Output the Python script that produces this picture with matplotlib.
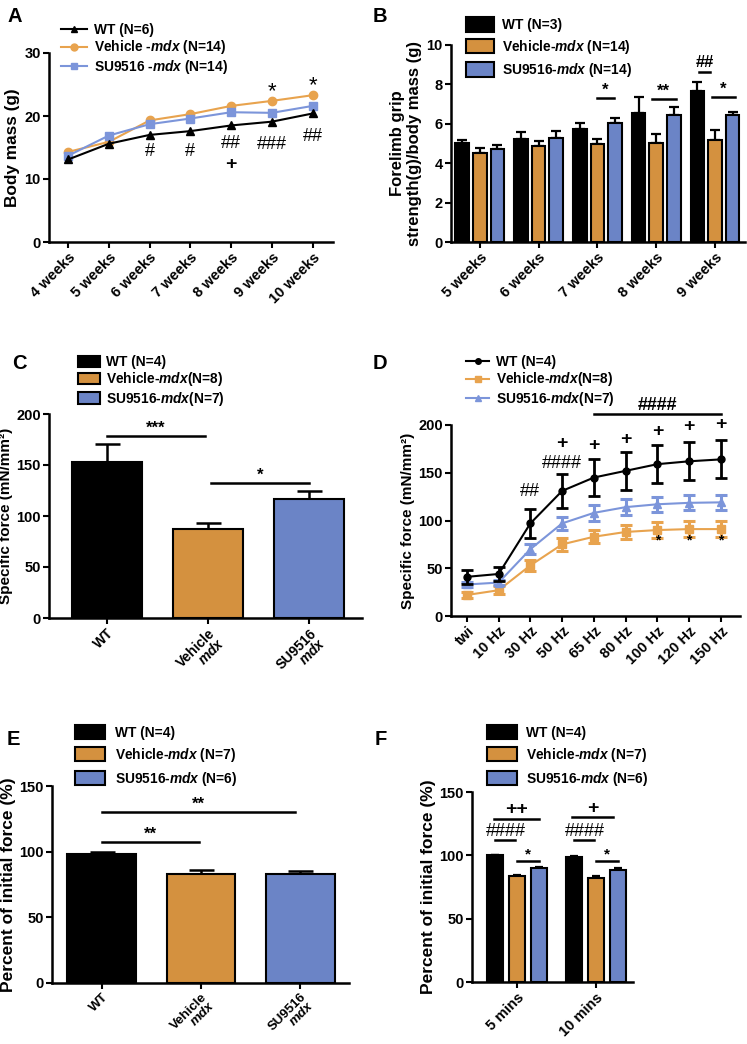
import numpy as np
import matplotlib.pyplot as plt
from matplotlib.lines import Line2D
from matplotlib.patches import Patch

plt.rcParams['font.family'] = ['Liberation Sans', 'DejaVu Sans']
plt.rcParams['font.weight'] = 'bold'
plt.rcParams['axes.labelweight'] = 'bold'
plt.rcParams['mathtext.fontset'] = 'custom'
plt.rcParams['mathtext.rm'] = 'Liberation Sans:bold'
plt.rcParams['mathtext.it'] = 'Liberation Sans:italic:bold'
plt.rcParams['mathtext.bf'] = 'Liberation Sans:bold'

# ---- data ----
weeks_a = ['4 weeks', '5 weeks', '6 weeks', '7 weeks', '8 weeks', '9 weeks', '10 weeks']
mass_wt = [13.1, 15.6, 17.0, 17.6, 18.5, 19.1, 20.4]
mass_veh = [14.3, 15.9, 19.3, 20.3, 21.6, 22.4, 23.3]
mass_su = [13.7, 16.9, 18.7, 19.6, 20.6, 20.5, 21.6]

weeks_b = ['5 weeks', '6 weeks', '7 weeks', '8 weeks', '9 weeks']
grip_wt = [5.05, 5.25, 5.75, 6.55, 7.65]
grip_wt_err = [0.15, 0.35, 0.3, 0.8, 0.45]
grip_veh = [4.5, 4.85, 4.98, 5.05, 5.2]
grip_veh_err = [0.25, 0.28, 0.27, 0.45, 0.5]
grip_su = [4.7, 5.3, 6.03, 6.47, 6.43]
grip_su_err = [0.2, 0.32, 0.27, 0.37, 0.15]

groups_c = ['WT', 'Vehicle\n$\\mathit{mdx}$', 'SU9516\n$\\mathit{mdx}$']
spec_force = [153, 87, 117]
spec_force_err = [18, 6, 8]

freqs = ['twi', '10 Hz', '30 Hz', '50 Hz', '65 Hz', '80 Hz', '100 Hz', '120 Hz', '150 Hz']
d_wt = [41, 44, 97, 131, 145, 152, 159, 162, 164]
d_wt_err = [7, 7, 15, 18, 19, 20, 20, 20, 20]
d_veh = [22, 27, 53, 75, 83, 88, 90, 91, 91]
d_veh_err = [3, 4, 6, 7, 7, 7, 8, 8, 8]
d_su = [33, 35, 70, 97, 108, 114, 117, 118.5, 119]
d_su_err = [3, 3, 5, 7, 8, 8, 8, 8, 8]

groups_e = ['WT', 'Vehicle\n$\\mathit{mdx}$', 'SU9516\n$\\mathit{mdx}$']
fatigue = [98, 83, 83]
fatigue_err = [1.5, 3, 2]

times_f = ['5 mins', '10 mins']
f_wt = [100, 98.5]
f_wt_err = [0.5, 0.7]
f_veh = [83.5, 82]
f_veh_err = [1, 1.5]
f_su = [90, 88.5]
f_su_err = [1, 1.5]

BLACK = 'black'
ORANGE = '#D4913F'
BLUE = '#6B84C6'
ORANGE_L = '#E8A34E'
BLUE_L = '#7C95DA'

W, H = 747, 1044
fig = plt.figure(figsize=(W / 100, H / 100), dpi=100)


def add_ax(l, t, r, b):
    return fig.add_axes([l / W, 1 - b / H, (r - l) / W, (b - t) / H])


def style(ax):
    for s in ['top', 'right']:
        ax.spines[s].set_visible(False)
    for s in ['left', 'bottom']:
        ax.spines[s].set_linewidth(1.8)
    ax.tick_params(width=1.5, length=4, labelsize=10.5, pad=2)


def fig_legend(ax, handles, labels, x, y, **kw):
    ax.legend(handles, labels, loc='upper left', bbox_to_anchor=(x / W, 1 - y / H),
              bbox_transform=fig.transFigure, frameon=False, fontsize=9.9,
              borderaxespad=0, borderpad=0, **kw)


def sig(ax, x1, x2, y, txt, dy, fs=11):
    ax.plot([x1, x2], [y, y], color='k', lw=1.8, clip_on=False)
    ax.text((x1 + x2) / 2, y + dy, txt, ha='center', va='bottom', fontsize=fs, clip_on=False)


def bar_leg_handles():
    return [Patch(facecolor=c, edgecolor='k', lw=1.5) for c in [BLACK, ORANGE, BLUE]]


# ---- A ----
ax = add_ax(49, 53, 333, 242)
xa = np.arange(len(weeks_a))
ax.plot(xa, mass_wt, '-^', color=BLACK, ms=6, lw=1.5, zorder=4)
ax.plot(xa, mass_veh, '-o', color=ORANGE_L, ms=6, lw=1.5, zorder=2)
ax.plot(xa, mass_su, '-s', color=BLUE_L, ms=6, lw=1.5, zorder=3)
ax.set_xlim(-0.47, 6.5)
ax.set_ylim(0, 30)
ax.set_yticks([0, 10, 20, 30])
ax.set_xticks(xa)
ax.set_xticklabels(weeks_a, rotation=45, ha='right', rotation_mode='anchor')
ax.set_ylabel('Body mass (g)', fontsize=12.4, labelpad=3)
style(ax)
for i, t, y in [(2, '#', 14.3), (3, '#', 14.3), (4, '##', 15.6), (5, '###', 15.4), (6, '##', 16.7)]:
    ax.text(i, y, t, ha='center', va='center', fontsize=13, fontweight='normal')
ax.text(4, 12.3, '+', ha='center', va='center', fontsize=14)
for i, y in [(5, 23.9), (6, 24.8)]:
    ax.text(i, y, '*', ha='center', va='center', fontsize=16, fontweight='normal')
fig_legend(ax, [Line2D([], [], color=BLACK, marker='^', ms=5, lw=1.5),
                Line2D([], [], color=ORANGE_L, marker='o', ms=5, lw=1.5),
                Line2D([], [], color=BLUE_L, marker='s', ms=5, lw=1.5)],
           ['WT (N=6)', 'Vehicle -$\\mathit{mdx}$ (N=14)', 'SU9516 -$\\mathit{mdx}$ (N=14)'],
           61, 23, handlelength=1.9, labelspacing=0.1, handletextpad=0.5)

# ---- B ----
ax = add_ax(451, 45, 745, 242)
xb = np.arange(len(weeks_b))
bw = 0.23
for off, vals, errs, c in [(-0.3, grip_wt, grip_wt_err, BLACK), (0, grip_veh, grip_veh_err, ORANGE),
                           (0.3, grip_su, grip_su_err, BLUE)]:
    ax.bar(xb + off, vals, bw, color=c, edgecolor='k', lw=1.5, zorder=3)
    ax.errorbar(xb + off, vals, yerr=[np.zeros(len(vals)), errs], fmt='none', ecolor='k',
                elinewidth=1.6, capsize=3.5, capthick=1.6, zorder=2)
ax.set_xlim(-0.49, 4.51)
ax.set_ylim(0, 10)
ax.set_yticks([0, 2, 4, 6, 8, 10])
ax.set_xticks(xb)
ax.set_xticklabels(weeks_b, rotation=45, ha='right', rotation_mode='anchor')
ax.set_ylabel('Forelimb grip\nstrength(g)/body mass (g)', fontsize=12, labelpad=3)
style(ax)
sig(ax, 2.0, 2.28, 7.33, '*', 0.0, fs=12)
sig(ax, 2.93, 3.33, 7.26, '**', 0.0, fs=12)
sig(ax, 3.95, 4.34, 7.38, '*', 0.0, fs=12)
sig(ax, 3.72, 3.92, 8.65, '##', 0.1, fs=12)
fig_legend(ax, bar_leg_handles(),
           ['WT (N=3)', 'Vehicle-$\\mathit{mdx}$ (N=14)', 'SU9516-$\\mathit{mdx}$ (N=14)'],
           466, 17, handlelength=2.0, handleheight=1.3, labelspacing=0.4, handletextpad=0.6)

# ---- C ----
ax = add_ax(49, 414, 362, 618)
xc = np.arange(3)
ax.bar(xc, spec_force, 0.69, color=[BLACK, ORANGE, BLUE], edgecolor='k', lw=1.5, zorder=3)
ax.errorbar(xc, spec_force, yerr=[np.zeros(3), spec_force_err], fmt='none', ecolor='k',
            elinewidth=1.8, capsize=9, capthick=1.8, zorder=2)
ax.set_xlim(-0.57, 2.52)
ax.set_ylim(0, 200)
ax.set_yticks([0, 50, 100, 150, 200])
ax.set_xticks(xc)
ax.set_xticklabels(groups_c, rotation=45, ha='right', rotation_mode='anchor', linespacing=0.9)
ax.set_ylabel('Specific force (mN/mm²)', fontsize=11, labelpad=2)
style(ax)
ax.tick_params(axis='x', labelsize=10)
sig(ax, -0.0, 0.97, 178, '***', 0.5, fs=12)
sig(ax, 1.03, 2.0, 132, '*', 0.5, fs=12)
fig_legend(ax, bar_leg_handles(),
           ['WT (N=4)', 'Vehicle-$\\mathit{mdx}$(N=8)', 'SU9516-$\\mathit{mdx}$(N=7)'],
           78, 355, handlelength=1.6, handleheight=0.9, labelspacing=0.1, handletextpad=0.4)

# ---- D ----
ax = add_ax(451, 425, 740, 616)
xd = np.arange(len(freqs))
ax.errorbar(xd, d_wt, yerr=d_wt_err, color=BLACK, marker='o', ms=5, lw=1.5, elinewidth=2,
            capsize=4, capthick=2, zorder=4)
ax.errorbar(xd, d_su, yerr=d_su_err, color=BLUE_L, marker='^', ms=6, lw=1.5, elinewidth=2.2,
            capsize=4, capthick=2.2, zorder=3)
ax.errorbar(xd, d_veh, yerr=d_veh_err, color=ORANGE_L, marker='s', ms=6, lw=1.5, elinewidth=2.2,
            capsize=4, capthick=2.2, zorder=2)
ax.set_xlim(-0.5, 8.6)
ax.set_ylim(0, 200)
ax.set_yticks([0, 50, 100, 150, 200])
ax.set_xticks(xd)
ax.set_xticklabels(freqs, rotation=45, ha='right', rotation_mode='anchor')
ax.set_ylabel('Specific force (mN/mm²)', fontsize=11, labelpad=2)
style(ax)
ax.text(2, 130, '##', ha='center', va='center', fontsize=13, fontweight='normal')
ax.text(3, 160, '####', ha='center', va='center', fontsize=13, fontweight='normal')
for i, y in [(3, 181), (4, 179), (5, 185), (6, 193), (7, 198), (8, 200)]:
    ax.text(i, y, '+', ha='center', va='center', fontsize=14, clip_on=False)
for i in [6, 7, 8]:
    ax.text(i, 79, '*', ha='center', va='center', fontsize=10)
sig(ax, 4, 8, 211, '####', 0.5, fs=13)
fig_legend(ax, [Line2D([], [], color=BLACK, marker='o', ms=4, lw=1.5),
                Line2D([], [], color=ORANGE_L, marker='s', ms=4, lw=1.5),
                Line2D([], [], color=BLUE_L, marker='^', ms=4, lw=1.5)],
           ['WT (N=4)', 'Vehicle-$\\mathit{mdx}$(N=8)', 'SU9516-$\\mathit{mdx}$(N=7)'],
           466, 355, handlelength=1.7, labelspacing=0.1, handletextpad=0.5)

# ---- E ----
ax = add_ax(52, 786, 349, 983)
xe = np.arange(3)
ax.bar(xe, fatigue, 0.69, color=[BLACK, ORANGE, BLUE], edgecolor='k', lw=1.5, zorder=3)
ax.errorbar(xe, fatigue, yerr=[np.zeros(3), fatigue_err], fmt='none', ecolor='k',
            elinewidth=1.8, capsize=9, capthick=1.8, zorder=2)
ax.set_xlim(-0.5, 2.49)
ax.set_ylim(0, 150)
ax.set_yticks([0, 50, 100, 150])
ax.set_xticks(xe)
ax.set_xticklabels(groups_e, rotation=45, ha='right', rotation_mode='anchor', linespacing=0.85)
ax.set_ylabel('Percent of initial force (%)', fontsize=12.5, labelpad=2)
style(ax)
ax.tick_params(axis='x', labelsize=9.5)
sig(ax, 0.0, 0.98, 107.4, '**', 0.5, fs=12)
sig(ax, 0.0, 1.95, 130, '**', 0.5, fs=12)
fig_legend(ax, bar_leg_handles(),
           ['WT (N=4)', 'Vehicle-$\\mathit{mdx}$ (N=7)', 'SU9516-$\\mathit{mdx}$ (N=6)'],
           75, 725, handlelength=2.2, handleheight=1.2, labelspacing=0.45, handletextpad=0.7)

# ---- F ----
ax = add_ax(472, 792, 633, 982)
xf = np.arange(len(times_f))
bw = 0.21
for off, vals, errs, c in [(-0.28, f_wt, f_wt_err, BLACK), (0, f_veh, f_veh_err, ORANGE),
                           (0.28, f_su, f_su_err, BLUE)]:
    ax.bar(xf + off, vals, bw, color=c, edgecolor='k', lw=1.5, zorder=3)
    ax.errorbar(xf + off, vals, yerr=[np.zeros(len(vals)), errs], fmt='none', ecolor='k',
                elinewidth=1.6, capsize=3, capthick=1.6, zorder=2)
ax.set_xlim(-0.57, 1.47)
ax.set_ylim(0, 150)
ax.set_yticks([0, 50, 100, 150])
ax.set_xticks(xf)
ax.set_xticklabels(times_f, rotation=45, ha='right', rotation_mode='anchor')
ax.set_ylabel('Percent of initial force (%)', fontsize=12.5, labelpad=2)
style(ax)
sig(ax, -0.29, 0.28, 129, '++', 0.5, fs=14)
sig(ax, 0.7, 1.22, 130, '+', 0.5, fs=14)
for g in [0, 1]:
    ax.text(g - 0.14, 118.5, '####', ha='center', va='center', fontsize=13, fontweight='normal')
    ax.plot([g - 0.28, g - 0.02], [112, 112], color='k', lw=1.8)
    sig(ax, g + 0.0, g + 0.28, 95.6, '*', -0.5, fs=11)
fig_legend(ax, bar_leg_handles(),
           ['WT (N=4)', 'Vehicle-$\\mathit{mdx}$ (N=7)', 'SU9516-$\\mathit{mdx}$ (N=6)'],
           487, 725, handlelength=2.2, handleheight=1.2, labelspacing=0.45, handletextpad=0.6)

# panel letters
for lab, x, y in [('A', 7, 22), ('B', 373, 22), ('C', 12, 369), ('D', 373, 369),
                  ('E', 7, 745), ('F', 375, 745)]:
    fig.text(x / W, 1 - y / H, lab, fontsize=14.5, fontweight='bold', ha='left', va='baseline')

fig.savefig('out.png', dpi=100)
